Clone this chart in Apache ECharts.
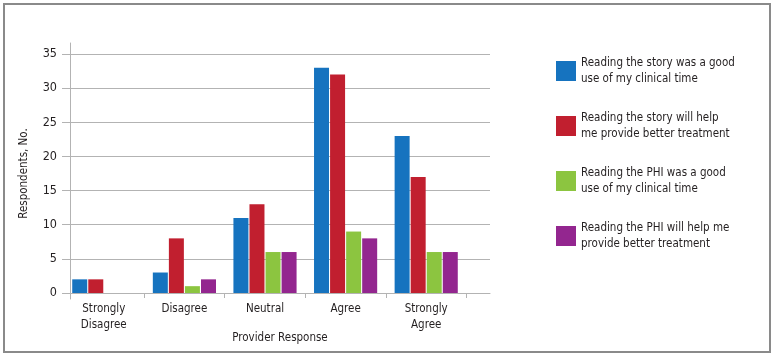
<!DOCTYPE html>
<html>
<head>
<meta charset="utf-8">
<script src="https://cdn.jsdelivr.net/npm/echarts@6/dist/echarts.min.js"></script>
<style>
  html, body { margin: 0; padding: 0; background: #fff; }
  #chart { width: 772px; height: 358px; }
</style>
</head>
<body>
<div id="chart"></div>
<script>
const categories = ["Strongly\nDisagree", "Disagree", "Neutral", "Agree", "Strongly\nAgree"];
const seriesNames = [
  "Reading the story was a good use of my clinical time",
  "Reading the story will help me provide better treatment",
  "Reading the PHI was a good use of my clinical time",
  "Reading the PHI will help me provide better treatment",
];
const legendLines = [
  "Reading the story was a good\nuse of my clinical time",
  "Reading the story will help\nme provide better treatment",
  "Reading the PHI was a good\nuse of my clinical time",
  "Reading the PHI will help me\nprovide better treatment",
];
const storyGoodUse = [2, 3, 11, 33, 23];
const storyBetterTreatment = [2, 8, 13, 32, 17];
const phiGoodUse = [null, 1, 6, 9, 6];
const phiBetterTreatment = [null, 2, 6, 8, 6];
const yTicks = { min: 0, max: 35, interval: 5 };

const colors = ["#1673bf", "#c11f2f", "#8cc540", "#93268f"];
const font = "'DejaVu Sans Condensed', 'Liberation Sans Narrow', Arial, sans-serif";
const fontSize = 11.5;
const textColor = "#231f20";
const lineColor = "#b3b3b3";

const chart = echarts.init(document.getElementById("chart"));
const seriesData = [storyGoodUse, storyBetterTreatment, phiGoodUse, phiBetterTreatment];

const option = {
  animation: false,
  color: colors,
  textStyle: { fontFamily: font, color: textColor },
  graphic: [
    {
      type: "rect",
      shape: { x: 4, y: 4, width: 766, height: 348 },
      style: { fill: "none", stroke: "#8a8a8a", lineWidth: 2 },
    },
  ],
  legend: {
    orient: "vertical",
    left: 556,
    top: 55,
    padding: 0,
    itemWidth: 20,
    itemHeight: 20,
    itemGap: 23,
    icon: "rect",
    data: seriesNames,
    formatter: (name) => legendLines[seriesNames.indexOf(name)],
    textStyle: { fontFamily: font, fontSize: fontSize, lineHeight: 16, color: textColor },
  },
  grid: [
    // axis line for the y axis (a bit longer than the plot)
    { left: 70, width: 1, top: 43, bottom: 59 },
    // gridlines, y labels, x axis line
    { left: 70, width: 420, top: 54, bottom: 65 },
    // bars
    { left: 63.5, width: 403, top: 54, bottom: 65 },
  ],
  xAxis: [
    { gridIndex: 0, type: "value", show: false },
    {
      gridIndex: 1,
      type: "value",
      min: 0,
      max: 1,
      name: "Provider Response",
      nameLocation: "middle",
      nameGap: 39,
      nameTextStyle: { fontFamily: font, fontSize: fontSize, color: textColor },
      axisLine: { show: true, lineStyle: { color: lineColor, width: 1 } },
      axisTick: { show: false },
      axisLabel: { show: false },
      splitLine: { show: false },
    },
    {
      gridIndex: 2,
      type: "category",
      data: categories,
      axisLine: { show: false },
      axisTick: {
        show: true,
        length: 5,
        interval: (i) => i > 0,
        lineStyle: { color: lineColor },
      },
      axisLabel: {
        margin: 8,
        fontFamily: font,
        fontSize: fontSize,
        lineHeight: 16,
        color: textColor,
      },
    },
  ],
  yAxis: [
    {
      gridIndex: 0,
      type: "value",
      min: 0,
      max: 1,
      axisLine: { show: true, lineStyle: { color: lineColor, width: 1 } },
      axisTick: { show: false },
      axisLabel: { show: false },
      splitLine: { show: false },
    },
    {
      gridIndex: 1,
      type: "value",
      min: yTicks.min,
      max: yTicks.max,
      interval: yTicks.interval,
      name: "Respondents, No.",
      nameLocation: "middle",
      nameGap: 40,
      nameTextStyle: { fontFamily: font, fontSize: fontSize, color: textColor },
      axisLine: { show: false },
      axisTick: { show: true, length: 8, lineStyle: { color: lineColor } },
      axisLabel: { margin: 13, fontFamily: font, fontSize: 12.5, color: textColor },
      splitLine: { show: true, lineStyle: { color: lineColor, width: 1 } },
    },
    {
      gridIndex: 2,
      type: "value",
      min: yTicks.min,
      max: yTicks.max,
      show: false,
    },
  ],
  series: seriesNames.map((name, i) => ({
    name,
    type: "bar",
    xAxisIndex: 2,
    yAxisIndex: 2,
    barWidth: 15,
    barGap: "7%",
    itemStyle: { color: colors[i] },
    data: seriesData[i],
  })),
};

chart.setOption(option);
window.addEventListener("resize", () => {
  chart.resize();
});
</script>
</body>
</html>
